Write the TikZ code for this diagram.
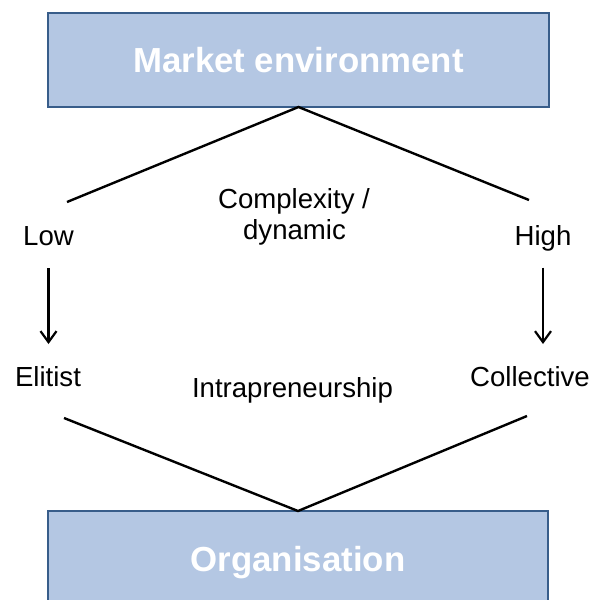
\documentclass[tikz,border=0pt]{standalone}
\usepackage{fontspec}
\setmainfont{Liberation Sans}
\usetikzlibrary{arrows.meta}
\definecolor{boxfill}{HTML}{B4C7E3}
\definecolor{boxline}{HTML}{385D8A}
\begin{document}
\begin{tikzpicture}[x=1pt,y=-1pt,
  bigbox/.style={draw=boxline,fill=boxfill,line width=2.2pt,outer sep=0pt,inner sep=0pt,
    text=white,font=\fontsize{34.8}{40}\selectfont\bfseries},
  lbl/.style={inner sep=0pt,outer sep=0pt,anchor=base,font=\fontsize{27.6}{31}\selectfont},
  conn/.style={line width=2.4pt,black},
  arr/.style={line width=2.2pt,black,-{Straight Barb[length=11pt,width=16pt,line width=2.2pt]}}]
\useasboundingbox (0,0) rectangle (591,600);
\clip (0,0) rectangle (591,600);
\node[bigbox,minimum width=501pt,minimum height=94pt] (market) at (298.5,60) {Market environment};
\node[bigbox,minimum width=500pt,minimum height=104pt] (org) at (298,563) {Organisation};
\coordinate (lowend) at (67,202);
\coordinate (highend) at (529,200);
\coordinate (elend) at (64,418);
\coordinate (colend) at (527,416);
\node[lbl] (low) at (48.5,245) {Low};
\node[lbl] (high) at (543,245) {High};
\node[lbl] (cplx) at (294,208) {Complexity /};
\node[lbl] (dyn) at (294.5,239) {dynamic};
\node[lbl] (elitist) at (48,386) {Elitist};
\node[lbl] (collective) at (530,386) {Collective};
\node[lbl] (intra) at (292.5,397) {Intrapreneurship};
\draw[conn] (lowend) -- (market.south) -- (highend);
\draw[conn] (elend) -- (org.north) -- (colend);
\draw[arr,shorten <=23pt,shorten >=22pt] (low.south) -- (low.south |- elitist.north);
\draw[arr,shorten <=17pt,shorten >=22pt] (high.south) -- (high.south |- collective.north);
\end{tikzpicture}
\end{document}
